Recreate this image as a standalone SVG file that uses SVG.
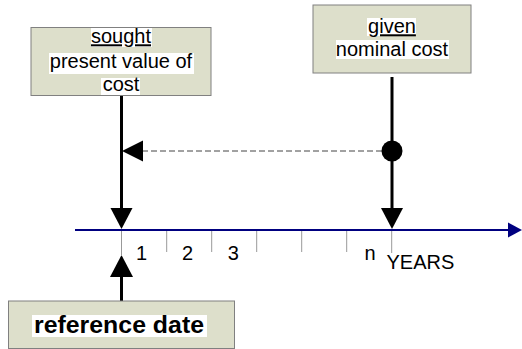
<svg xmlns="http://www.w3.org/2000/svg" width="522" height="349" viewBox="0 0 522 349">
<style>
.box{fill:#dddfcb;stroke:#808080;stroke-width:1}
.bg{fill:#ffffff}
.t{font-family:"Liberation Sans",Arial,sans-serif;font-size:20px;fill:#000;text-anchor:middle}
.u{text-decoration:underline}
.b{font-weight:bold;font-size:24.5px}
.stem{stroke:#000;stroke-width:3;fill:none}
.head{fill:#000}
.tick{stroke:#999;stroke-width:1}
</style>
<rect width="522" height="349" fill="#ffffff"/>
<g id="connectors">
  <line class="stem" x1="121.5" y1="95" x2="121.5" y2="210"/>
  <polygon class="head" points="121.5,229 110.5,208 132.5,208"/>
  <line class="stem" x1="392" y1="77" x2="392" y2="210"/>
  <polygon class="head" points="392,229 381,208 403,208"/>
  <line x1="142" y1="151" x2="385" y2="151" stroke="#444" stroke-width="1" stroke-dasharray="6,3"/>
  <polygon class="head" points="122,151 143,140.5 143,161.5"/>
  <circle cx="392" cy="151" r="10.5" fill="#000"/>
  <line class="stem" x1="121.5" y1="275" x2="121.5" y2="301"/>
  <polygon class="head" points="121.5,255 110,277 133,277"/>
</g>
<g id="axis">
  <line class="tick" x1="121.5" y1="230" x2="121.5" y2="256"/>
  <line class="tick" x1="166.7" y1="230" x2="166.7" y2="252"/>
  <line class="tick" x1="211.7" y1="230" x2="211.7" y2="252"/>
  <line class="tick" x1="256.7" y1="230" x2="256.7" y2="252"/>
  <line class="tick" x1="301.7" y1="230" x2="301.7" y2="252"/>
  <line class="tick" x1="346.7" y1="230" x2="346.7" y2="252"/>
  <line class="tick" x1="391.7" y1="230" x2="391.7" y2="253"/>
  <line x1="75" y1="230" x2="510" y2="230" stroke="#000080" stroke-width="2"/>
  <polygon points="522,230 508,222.5 508,237.5" fill="#000080"/>
  <text class="t" x="141.5" y="259.7">1</text>
  <text class="t" x="187.5" y="259.7">2</text>
  <text class="t" x="233.3" y="259.7">3</text>
  <text class="t" x="370" y="259.7">n</text>
  <text class="t" x="386.5" y="268.7" style="text-anchor:start">YEARS</text>
</g>
<g id="sought">
  <rect class="box" x="31" y="27.5" width="180" height="68"/>
  <rect class="bg" x="91" y="28" width="61" height="19"/>
  <rect class="bg" x="49" y="53" width="145" height="21"/>
  <rect class="bg" x="101" y="78" width="39" height="17"/>
  <text class="t u" x="121" y="43.3">sought</text>
  <text class="t" x="121" y="67.7">present value of</text>
  <text class="t" x="121" y="90.7">cost</text>
</g>
<g id="given">
  <rect class="box" x="313" y="5" width="158" height="68"/>
  <rect class="bg" x="367" y="18" width="49" height="18"/>
  <rect class="bg" x="336" y="40" width="113" height="19"/>
  <text class="t u" x="392" y="33.3">given</text>
  <text class="t" x="392" y="55.5">nominal cost</text>
</g>
<g id="reference">
  <rect class="box" x="8.5" y="301" width="226" height="47.5"/>
  <rect class="bg" x="32" y="315" width="175" height="22"/>
  <text class="t b" x="119" y="333.3" textLength="170" lengthAdjust="spacingAndGlyphs">reference date</text>
</g>
</svg>
